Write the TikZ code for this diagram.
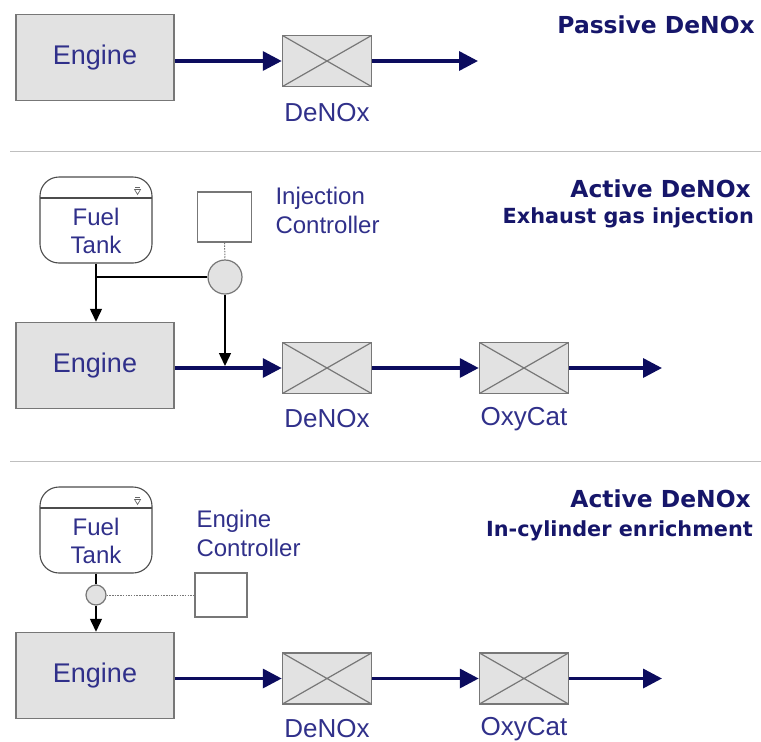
\documentclass[tikz,border=0pt]{standalone}
\usepackage{fontspec}
\setmainfont{Liberation Sans}
\newfontfamily\headfont{DejaVu Sans}
\usepackage{xcolor}
\usetikzlibrary{positioning,calc,arrows.meta}

\definecolor{navy}{HTML}{0C0C5E}
\definecolor{labelblue}{HTML}{30308A}
\definecolor{headblue}{HTML}{16166A}
\definecolor{boxgray}{HTML}{E2E2E2}
\definecolor{edgegray}{HTML}{777777}

\tikzset{
  engine/.style={draw=edgegray, fill=boxgray, line width=1.5pt, minimum width=158pt, minimum height=86pt, text=labelblue, font=\fontsize{27}{30}\selectfont},
  cat/.style={draw=edgegray, fill=boxgray, line width=1.5pt, minimum width=89pt, minimum height=51pt,
    path picture={\draw[edgegray, line width=1.2pt] (path picture bounding box.north west) -- (path picture bounding box.south east)
      (path picture bounding box.south west) -- (path picture bounding box.north east);}},
  tank/.style={draw=black!70, fill=white, line width=1.1pt, rounded corners=19pt, minimum width=112pt, minimum height=86pt,
    path picture={\draw[black!70, line width=1.1pt] ([yshift=-21pt]path picture bounding box.north west) -- ([yshift=-21pt]path picture bounding box.north east);}},
  ctrl/.style={draw=edgegray, fill=white, line width=1.5pt, minimum width=54pt},
  valve/.style={circle, draw=edgegray, fill=boxgray, line width=1.2pt, inner sep=0pt},
  lbl/.style={text=labelblue, font=\fontsize{26}{29}\selectfont},
  small/.style={text=labelblue, font=\fontsize{24}{28.5}\selectfont},
  head/.style={text=headblue, anchor=base east, inner sep=0pt, font=\headfont\bfseries\fontsize{23.4}{27}\selectfont},
  sub/.style={text=headblue, anchor=base east, inner sep=0pt, font=\headfont\bfseries\fontsize{20.8}{25}\selectfont},
  flow/.style={navy, line width=3.5pt, -{Triangle[length=19pt,width=19pt]}},
  feed/.style={black, line width=1.5pt},
  signal/.style={edgegray, line width=1pt, dash pattern=on 1.5pt off 1.2pt},
  rule/.style={black!25, line width=1pt}
}

% small vent mark on the tank lid
\newcommand{\tankmark}[1]{%
  \draw[black!60, line width=0.7pt] ($(#1.north east)+(-18,13)$) -- ++(6,0) -- ++(-3,5) -- cycle;
  \draw[black!60, line width=0.7pt] ($(#1.north east)+(-17.5,11)$) -- ++(5,0);
}

\begin{document}
\begin{tikzpicture}[x=1pt,y=-1pt]
  \useasboundingbox (0,0) rectangle (761,742);

  % passive
  \node[engine] (eng1) at (95,57.5) {Engine};
  \node[cat] (den1) at (327,61) {};
  \coordinate (out1) at (478,61);
  \draw[flow] (eng1.east |- den1.west) -- (den1.west);
  \draw[flow] (den1.east) -- (out1);
  \node[lbl] (den1txt) at (327,113) {DeNOx};
  \node[head] (title1) at (755,33) {Passive DeNOx};

  \draw[rule] (10,151.5) -- (761,151.5);

  % active, exhaust gas injection
  \node[tank] (tank2) at (96,220) {};
  \tankmark{tank2}
  \node[small, align=center] (tank2txt) at (96,231) {Fuel\\Tank};
  \node[ctrl, minimum height=50pt] (ictl) at (224.5,217) {};
  \node[small, align=left, anchor=north west] (ictltxt) at (272,184) {Injection\\Controller};
  \node[valve, minimum size=34pt] (valve2) at (225,277) {};
  \node[engine] (eng2) at (95,365.5) {Engine};
  \node[cat] (den2) at (327,368) {};
  \node[cat] (oxy2) at (524,368) {};
  \coordinate (out2) at (662,368);
  \draw[signal] (ictl.south) -- (valve2.north);
  \draw[feed] (valve2.west) -- (valve2.west -| tank2.south);
  \draw[feed, -{Triangle[length=13pt,width=12pt]}] (tank2.south) -- (tank2.south |- eng2.north);
  \draw[feed, -{Triangle[length=13pt,width=12pt]}] (valve2.south) -- ($(valve2.south |- den2.west)+(0,-2)$);
  \draw[flow] (eng2.east |- den2.west) -- (den2.west);
  \draw[flow] (den2.east) -- (oxy2.west);
  \draw[flow] (oxy2.east) -- (out2);
  \node[lbl] (den2txt) at (327,419) {DeNOx};
  \node[lbl] (oxy2txt) at (524,419) {OxyCat};
  \node[head] (title2) at (751,197) {Active DeNOx};
  \node[sub] (sub2) at (754,223) {Exhaust gas injection};

  \draw[rule] (10,461.5) -- (761,461.5);

  % active, in-cylinder enrichment
  \node[tank] (tank3) at (96,530) {};
  \tankmark{tank3}
  \node[small, align=center] (tank3txt) at (96,541) {Fuel\\Tank};
  \node[valve, minimum size=20pt] (valve3) at (96,595) {};
  \node[ctrl, minimum width=52pt, minimum height=44pt] (ectl) at (221,595) {};
  \node[small, align=left, anchor=north west] (ectltxt) at (193,507) {Engine\\Controller};
  \node[engine] (eng3) at (95,675.5) {Engine};
  \node[cat] (den3) at (327,678.5) {};
  \node[cat] (oxy3) at (524,678.5) {};
  \coordinate (out3) at (662,678.5);
  \draw[feed] (tank3.south) -- (valve3.north);
  \draw[feed, -{Triangle[length=13pt,width=12pt]}] (valve3.south) -- (valve3.south |- eng3.north);
  \draw[signal] (valve3.east) -- (ectl.west);
  \draw[flow] (eng3.east |- den3.west) -- (den3.west);
  \draw[flow] (den3.east) -- (oxy3.west);
  \draw[flow] (oxy3.east) -- (out3);
  \node[lbl] (den3txt) at (327,729) {DeNOx};
  \node[lbl] (oxy3txt) at (524,729) {OxyCat};
  \node[head] (title3) at (751,507) {Active DeNOx};
  \node[sub] (sub3) at (753,536) {In-cylinder enrichment};
\end{tikzpicture}
\end{document}
